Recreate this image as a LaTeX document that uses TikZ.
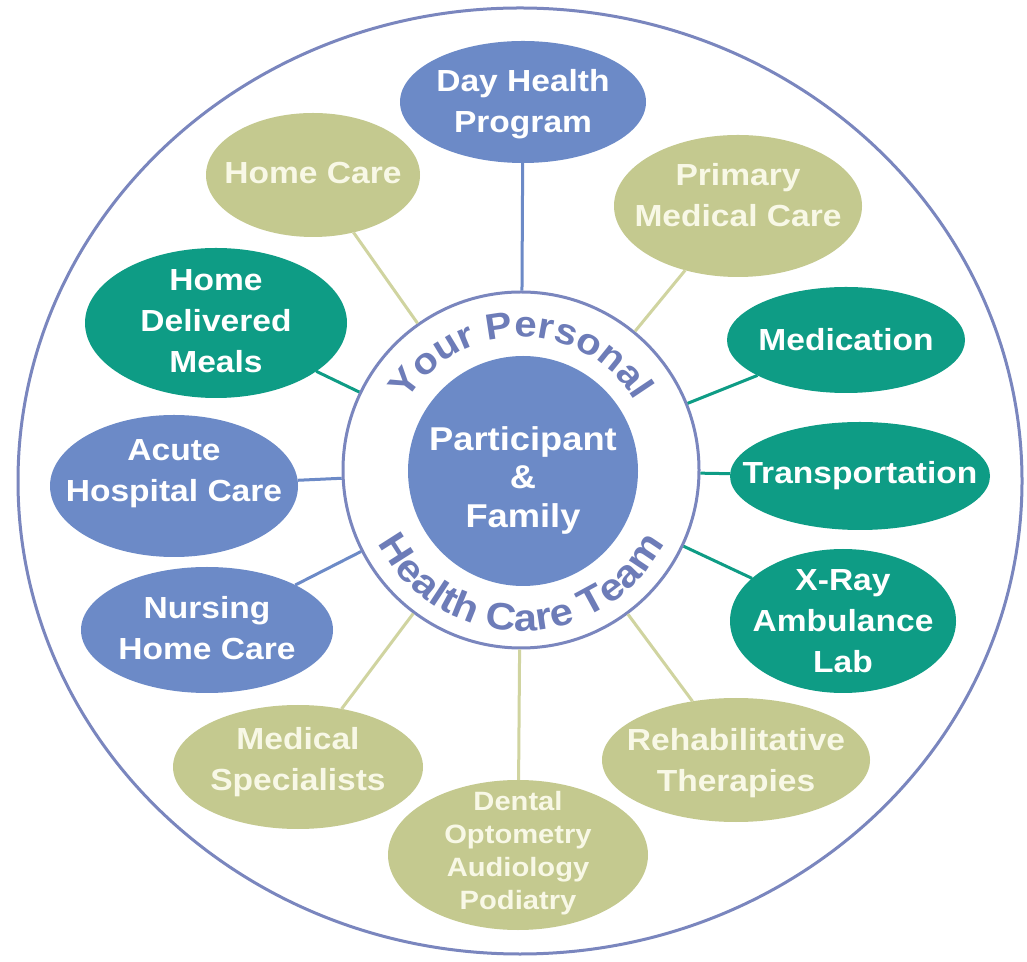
\documentclass[tikz,border=0pt]{standalone}
\usepackage{fontspec}
\setmainfont{Liberation Sans}[FakeStretch=1.1]
\newfontfamily\arcfont{Liberation Sans}[FakeStretch=1.1]
\usetikzlibrary{shapes.geometric,decorations.text}
\definecolor{cblue}{HTML}{6C8AC7}
\definecolor{colive}{HTML}{C4C98F}
\definecolor{cteal}{HTML}{0E9C85}
\definecolor{cring}{HTML}{7A86BE}
\definecolor{loliv}{HTML}{D0D4A0}
\definecolor{ringtxt}{HTML}{6D7CB8}
\definecolor{oltxt}{HTML}{F8F8E6}
\tikzset{
  bub/.style={ellipse, inner sep=0pt, outer sep=0pt},
  bblue/.style={bub, fill=cblue},
  bolive/.style={bub, fill=colive},
  bteal/.style={bub, fill=cteal},
  lbl/.style={align=center, inner sep=0pt, text=white, font=\fontsize{30.5}{41}\selectfont\bfseries},
  lblo/.style={lbl, text=oltxt},
  cb/.style={draw=cblue, line width=3pt},
  co/.style={draw=loliv, line width=3pt},
  ct/.style={draw=cteal, line width=3pt},
}
\begin{document}
\begin{tikzpicture}[x=1pt,y=1pt]
\useasboundingbox (0,0) rectangle (1027,961);
\fill[white] (0,0) rectangle (1027,961);
% outer frame
\node[ellipse, draw=cring, line width=3pt, minimum width=1004pt, minimum height=946pt, inner sep=0pt] (frame) at (520,480) {};
% centre ring and core
\node[circle, draw=cring, line width=3pt, minimum size=356pt, inner sep=0pt] (ring) at (521,491) {};
\node[circle, fill=cblue, minimum size=230pt, inner sep=0pt] (core) at (523,490) {};
\node[lbl, font=\fontsize{33}{38.5}\selectfont\bfseries] (core-t) at (523,481) {Participant\\\&\\Family};
% bubbles
\node[bblue, minimum width=246pt, minimum height=122pt] (day) at (523,859) {};
\node[bolive, minimum width=214pt, minimum height=124pt] (homecare) at (313,786) {};
\node[bolive, minimum width=248pt, minimum height=142pt] (primary) at (738,755) {};
\node[bteal, minimum width=262pt, minimum height=150pt] (meals) at (216,638) {};
\node[bteal, minimum width=238pt, minimum height=106pt] (medication) at (846,621) {};
\node[bblue, minimum width=248pt, minimum height=142pt] (acute) at (174,475) {};
\node[bteal, minimum width=260pt, minimum height=108pt] (transport) at (860,485) {};
\node[bblue, minimum width=252pt, minimum height=126pt] (nursing) at (207,331) {};
\node[bteal, minimum width=226pt, minimum height=144pt] (xray) at (843,340) {};
\node[bolive, minimum width=250pt, minimum height=124pt] (medspec) at (298,194) {};
\node[bolive, minimum width=268pt, minimum height=124pt] (rehab) at (736,201) {};
\node[bolive, minimum width=260pt, minimum height=150pt] (dental) at (518,106) {};
% connectors
\draw[cb] (ring) -- (day);
\draw[co] (ring) -- (homecare);
\draw[co] (ring) -- (primary);
\draw[ct] (ring) -- (meals);
\draw[ct] (ring) -- (medication);
\draw[cb] (ring) -- (acute);
\draw[ct] (ring) -- (transport);
\draw[cb] (ring) -- (nursing);
\draw[ct] (ring) -- (xray);
\draw[co] (ring) -- (medspec);
\draw[co] (ring) -- (rehab);
\draw[co] (ring) -- (dental);
% labels
\node[lbl] (day-t) at (523,857) {Day Health\\Program};
\node[lblo] (homecare-t) at (313,788) {Home Care};
\node[lblo] (primary-t) at (738,766) {Primary\\Medical Care};
\node[lbl] (meals-t) at (216,640) {Home\\Delivered\\Meals};
\node[lbl] (medication-t) at (846,621) {Medication};
\node[lbl] (acute-t) at (174,487) {Acute\\Hospital Care};
\node[lbl] (transport-t) at (860,485) {Transportation};
\node[lbl] (nursing-t) at (207,333) {Nursing\\Home Care};
\node[lbl] (xray-t) at (843,340) {X-Ray\\Ambulance\\Lab};
\node[lblo] (medspec-t) at (298,199) {Medical\\Specialists};
\node[lblo] (rehab-t) at (736,198) {Rehabilitative\\Therapies};
\node[lblo, font=\fontsize{26.5}{33}\selectfont\bfseries] (dental-t) at (518,108) {Dental\\Optometry\\Audiology\\Podiatry};
% curved texts
\path[decorate, decoration={text along path, text align=center,
  text={|\arcfont\fontsize{36.5}{36}\selectfont\bfseries\color{ringtxt}|Your Personal}}]
  (ring.center) ++(165:133) arc[start angle=165, end angle=15, radius=133];
\path[decorate, decoration={text along path, text align=center,
  text={|\arcfont\fontsize{38}{38}\selectfont\bfseries\color{ringtxt}|Health Care Team}}]
  (ring.center) ++(195:161) arc[start angle=195, end angle=345, radius=161];
\end{tikzpicture}
\end{document}
